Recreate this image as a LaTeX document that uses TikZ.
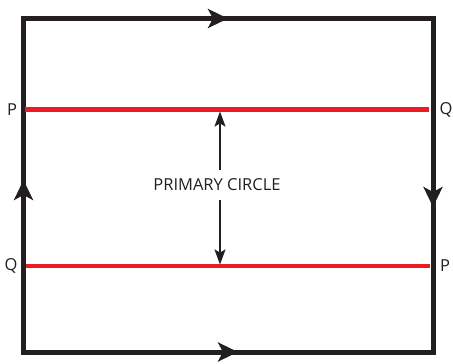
\documentclass[tikz,border=0pt]{standalone}
\usepackage{fontspec}
\setmainfont{Open Sans}
\usetikzlibrary{arrows.meta}
\definecolor{ink}{HTML}{231F20}
\definecolor{redl}{HTML}{ED1C24}
\tikzset{
  frame/.style={draw=ink,line width=5pt},
  redline/.style={draw=redl,line width=4.5pt},
  flow/.style={draw=ink,line width=5pt,-{Stealth[length=20pt,width=19pt,inset=5pt]}},
  dim/.style={draw=ink,line width=1.8pt,-{Stealth[length=15pt,width=11pt,inset=3pt]}},
  lbl/.style={text=ink,font=\fontsize{16.5}{19}\selectfont,inner sep=0pt}
}
\begin{document}
\begin{tikzpicture}[x=1pt,y=-1pt]
\useasboundingbox (0,0) rectangle (453,364);
\coordinate (tl) at (23.5,18.5);
\coordinate (br) at (433,352);
\draw[frame] (tl) rectangle (br);
% red lines
\coordinate (p1) at (25,109.5);
\coordinate (q1) at (429,109.5);
\coordinate (q2) at (26,266);
\coordinate (p2) at (430,266);
\draw[redline] (p1) -- (q1);
\draw[redline] (q2) -- (p2);
% flow arrows
\coordinate (ta0) at (200,18.5); \coordinate (ta1) at (228,18.5);
\coordinate (ba0) at (208,352); \coordinate (ba1) at (238,352);
\coordinate (la0) at (23.5,210); \coordinate (la1) at (23.5,180);
\coordinate (ra0) at (433,177); \coordinate (ra1) at (433,207);
\draw[flow] (ta0) -- (ta1);
\draw[flow] (ba0) -- (ba1);
\draw[flow] (la0) -- (la1);
\draw[flow] (ra0) -- (ra1);
% labels
\node[lbl] (lp1) at (12,110) {P};
\node[lbl] (lq1) at (446,110) {Q};
\node[lbl] (lq2) at (11,266) {Q};
\node[lbl] (lp2) at (445,266) {P};
\node[lbl] (pc) at (217,185) {PRIMARY CIRCLE};
% dimension arrows
\coordinate (dt0) at (220,170); \coordinate (dt1) at (220,111.5);
\coordinate (db0) at (220,200); \coordinate (db1) at (220,264.5);
\draw[dim] (dt0) -- (dt1);
\draw[dim] (db0) -- (db1);
\end{tikzpicture}
\end{document}
